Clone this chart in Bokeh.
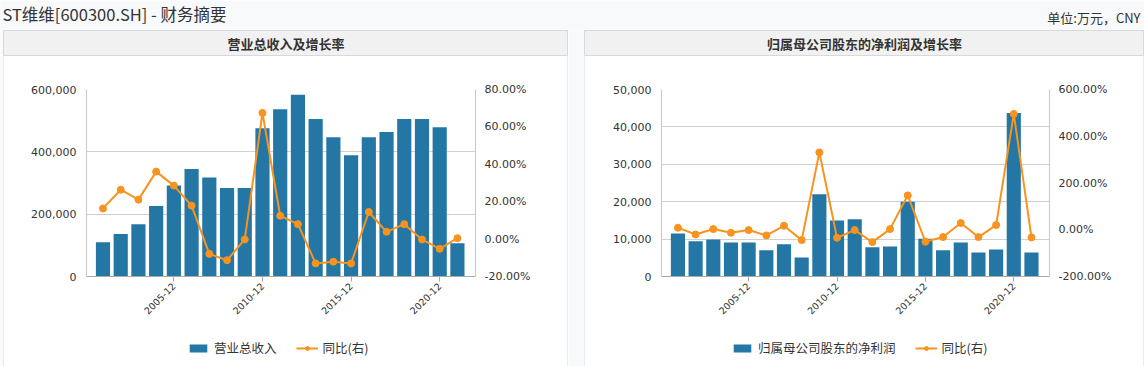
import math
from bokeh.plotting import figure
from bokeh.layouts import column, row
from bokeh.models import (Range1d, LinearAxis, FixedTicker, SingleIntervalTicker,
                          NumeralTickFormatter, PrintfTickFormatter, Legend, LegendItem,
                          ColumnDataSource)
from bokeh.core.properties import value
from bokeh.core.validation import silence
from bokeh.core.validation.warnings import MISSING_RENDERERS
from bokeh.embed import file_html
from bokeh.resources import INLINE

silence(MISSING_RENDERERS, True)

# ---------------- data ----------------
page_title = "ST维维[600300.SH] - 财务摘要"
unit_text = "单位:万元，CNY"
left_title = "营业总收入及增长率"
right_title = "归属母公司股东的净利润及增长率"
revenue_label = "营业总收入"
profit_label = "归属母公司股东的净利润"
yoy_label = "同比(右)"

periods = ["2001-12", "2002-12", "2003-12", "2004-12", "2005-12", "2006-12", "2007-12",
           "2008-12", "2009-12", "2010-12", "2011-12", "2012-12", "2013-12", "2014-12",
           "2015-12", "2016-12", "2017-12", "2018-12", "2019-12", "2020-12", "2021-03"]
shown_periods = ["2005-12", "2010-12", "2015-12", "2020-12"]

revenue = [110000, 136000, 168000, 226000, 292000, 345000, 318000, 284000, 284000, 476000,
           537000, 583000, 505000, 447000, 389000, 447000, 464000, 505000, 505000, 479000,
           107000]
revenue_yoy = [16.4, 26.4, 21.1, 36.1, 28.6, 17.9, -7.9, -11.3, -0.2, 67.5, 12.5, 8.0,
               -13.0, -12.1, -13.0, 14.5, 3.9, 8.0, -0.2, -5.2, 0.5]

profit = [11500, 9400, 9900, 9100, 9100, 7000, 8600, 5100, 22000, 15000, 15300, 7800,
          8000, 20000, 10100, 7000, 9100, 6400, 7200, 43750, 6400]
profit_yoy = [8.6, -20.0, 2.9, -12.9, -1.4, -24.3, 17.1, -44.3, 331.0, -34.3, -1.4, -52.9,
              2.9, 147.0, -51.4, -31.4, 28.6, -31.4, 20.0, 495.7, -32.9]

left_axis_max, left_axis_step = 600000, 200000
left_pct_min, left_pct_max, left_pct_step = -20, 80, 20
right_axis_max, right_axis_step = 50000, 10000
right_pct_min, right_pct_max, right_pct_step = -200, 600, 200

# ---------------- style ----------------
BLUE = "#2476a4"
ORANGE = "#f7931e"
PAGE_BG = "#f8f9fb"
HEADER_BG = "#f1f1f1"
BORDER = "#d9d9d9"
TEXT = "#333333"
CJK = "Noto Sans CJK SC"
NUM = "DejaVu Sans"

TOP_H = 30
HEADER_H = 26
CHART_H = 280
LEGEND_H = 30
NAN = float("nan")


def blank(width, height, bg):
    f = figure(width=width, height=height, x_axis_location=None, y_axis_location=None,
               min_border=0, toolbar_location=None, output_backend="svg")
    f.grid.visible = False
    f.background_fill_color = bg
    f.border_fill_color = bg
    f.outline_line_color = None
    return f


def make_header(width, title):
    h = figure(width=width, height=HEADER_H, x_range=Range1d(0, 1), y_range=Range1d(0, 1),
               x_axis_location=None, y_axis_location=None, min_border=0,
               toolbar_location=None, output_backend="svg")
    h.grid.visible = False
    h.background_fill_color = HEADER_BG
    h.border_fill_color = HEADER_BG
    h.outline_line_color = BORDER
    h.text(x=[0.5], y=[0.5], text=[title], text_align="center", text_baseline="middle",
           text_font=value(CJK), text_font_size="13px", text_font_style="bold",
           text_color=TEXT)
    return h


def make_chart(width, border_left, border_right, bars, yoy,
               ymax, ystep, pmin, pmax, pstep):
    idx = list(range(len(periods)))
    src = ColumnDataSource(dict(idx=idx, period=periods, bar=bars, yoy=yoy))
    p = figure(width=width, height=CHART_H,
               x_range=Range1d(-0.93, len(periods) - 1 + 1.02),
               y_range=Range1d(0, ymax),
               toolbar_location=None, output_backend="svg",
               min_border_left=border_left, min_border_right=border_right,
               min_border_top=33, min_border_bottom=60)
    p.extra_y_ranges = {"pct": Range1d(pmin, pmax)}
    p.background_fill_color = "white"
    p.border_fill_color = "white"
    p.outline_line_color = None

    p.vbar(x="idx", top="bar", width=0.8, source=src, fill_color=BLUE, line_color=None)
    p.line(x="idx", y="yoy", source=src, y_range_name="pct", line_color=ORANGE,
           line_width=2)
    p.scatter(x="idx", y="yoy", source=src, y_range_name="pct", size=7,
              fill_color=ORANGE, line_color=ORANGE)

    # x axis
    tick_idx = [i for i, lab in enumerate(periods) if lab in shown_periods]
    xa = p.xaxis[0]
    xa.ticker = FixedTicker(ticks=tick_idx)
    xa.major_label_overrides = {i: periods[i] for i in tick_idx}
    xa.major_label_orientation = math.pi / 4
    xa.major_label_text_font = NUM
    xa.major_label_text_font_size = "9.5px"
    xa.major_label_text_color = TEXT
    xa.axis_line_color = "#aaaaaa"
    xa.major_tick_line_color = "#aaaaaa"
    xa.major_tick_in = 0
    xa.major_tick_out = 5
    xa.minor_tick_line_color = None
    xa.major_label_standoff = 3

    # left y axis
    ya = p.yaxis[0]
    ya.ticker = SingleIntervalTicker(interval=ystep, num_minor_ticks=0)
    ya.formatter = NumeralTickFormatter(format="0,0")
    ya.major_label_text_font = NUM
    ya.major_label_text_font_size = "11px"
    ya.major_label_text_color = TEXT
    ya.axis_line_color = "#c8c8c8"
    ya.major_tick_line_color = None
    ya.minor_tick_line_color = None
    ya.major_label_standoff = 4

    # right y axis
    ra = LinearAxis(y_range_name="pct",
                    ticker=SingleIntervalTicker(interval=pstep, num_minor_ticks=0),
                    formatter=PrintfTickFormatter(format="%.2f%%"))
    ra.major_label_text_font = NUM
    ra.major_label_text_font_size = "11px"
    ra.major_label_text_color = TEXT
    ra.axis_line_color = "#c8c8c8"
    ra.major_tick_line_color = None
    ra.minor_tick_line_color = None
    ra.major_label_standoff = 3
    p.add_layout(ra, "right")

    p.xgrid.visible = False
    p.ygrid.grid_line_color = "#d0d0d0"
    p.ygrid.grid_line_width = 1
    return p


def make_legend(width, bar_label, legend_x):
    # legend strip below a chart; its renderers hold a single NaN point so that
    # nothing is drawn in the strip except the legend itself
    lf = figure(width=width, height=LEGEND_H, x_range=Range1d(0, 1), y_range=Range1d(0, 1),
                x_axis_location=None, y_axis_location=None, min_border=0,
                toolbar_location=None, output_backend="svg")
    lf.grid.visible = False
    lf.background_fill_color = "white"
    lf.border_fill_color = "white"
    lf.outline_line_color = None
    vb = lf.vbar(x=[NAN], top=[NAN], width=0.8, fill_color=BLUE, line_color=None)
    ln = lf.line(x=[NAN, NAN], y=[NAN, NAN], line_color=ORANGE, line_width=2)
    sc = lf.scatter(x=[NAN], y=[NAN], size=6, fill_color=ORANGE, line_color=ORANGE)
    legend = Legend(items=[LegendItem(label=bar_label, renderers=[vb]),
                           LegendItem(label=yoy_label, renderers=[ln, sc])],
                    orientation="horizontal", location=(legend_x, 9),
                    border_line_color=None, background_fill_alpha=0,
                    label_text_font=CJK, label_text_font_size="12.5px",
                    label_text_color=TEXT, glyph_width=22, glyph_height=10,
                    spacing=19, label_standoff=5, padding=0, margin=0)
    lf.add_layout(legend, "center")
    return lf


# ---------------- page pieces ----------------
top = figure(width=1144, height=TOP_H, x_range=Range1d(0, 1144), y_range=Range1d(TOP_H, 0),
             x_axis_location=None, y_axis_location=None, min_border=0,
             toolbar_location=None, output_backend="svg")
top.grid.visible = False
top.background_fill_color = PAGE_BG
top.border_fill_color = PAGE_BG
top.outline_line_color = None
top.text(x=[2], y=[13], text=[page_title], text_align="left", text_baseline="middle",
         text_font=value(CJK), text_font_size="16.5px", text_color=TEXT)
top.text(x=[1140], y=[17], text=[unit_text], text_align="right", text_baseline="middle",
         text_font=value(CJK), text_font_size="13px", text_color=TEXT)

LW, RW = 563, 558  # inner widths of the two panels
left_chart = make_chart(LW, 82, 92, revenue, revenue_yoy,
                        left_axis_max, left_axis_step,
                        left_pct_min, left_pct_max, left_pct_step)
right_chart = make_chart(RW, 76, 94, profit, profit_yoy,
                         right_axis_max, right_axis_step,
                         right_pct_min, right_pct_max, right_pct_step)

# legend strips share the frame alignment of the chart above them
BODY_H = CHART_H + LEGEND_H
left_panel = column(make_header(LW + 2, left_title),
                    row(blank(1, BODY_H, BORDER),
                        column(left_chart, make_legend(LW, revenue_label, 101)),
                        blank(1, BODY_H, BORDER)))
right_panel = column(make_header(RW + 2, right_title),
                     row(blank(1, BODY_H, BORDER),
                         column(right_chart, make_legend(RW, profit_label, 70)),
                         blank(1, BODY_H, BORDER)))
pad = blank(3, HEADER_H + BODY_H, PAGE_BG)
gap = blank(16, HEADER_H + BODY_H, PAGE_BG)

layout = column(top, row(pad, left_panel, gap, right_panel))

open("out.html", "w").write(file_html(layout, INLINE))
